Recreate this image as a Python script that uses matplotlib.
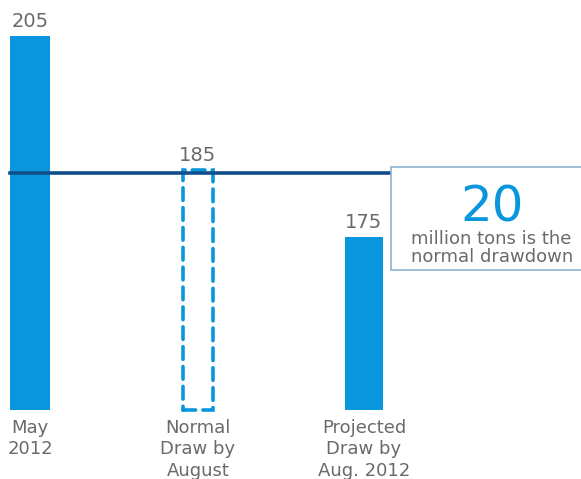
import matplotlib.pyplot as plt
from matplotlib.patches import Rectangle

# Données (millions de tonnes)
categories = ['May\n2012', 'Normal\nDraw by\nAugust', 'Projected\nDraw by\nAug. 2012']
valeurs = [205, 185, 175]
niveau_normal = 185
drawdown = 20

bleu = '#0a96dc'
bleu_fonce = '#0f4e8a'
gris = '#6a6a6a'
base = 149.2

fig = plt.figure(figsize=(5.81, 4.79), dpi=100)
ax = fig.add_axes([0, 0, 1, 1])
ax.set_xlim(-0.18, 3.30)
ax.set_ylim(138.9, 210.4)
ax.axis('off')

pos = [0, 1.005, 2.0]
larg = [0.24, 0.18, 0.23]

# Barres pleines
for i in [0, 2]:
    ax.bar(pos[i], valeurs[i] - base, bottom=base, width=larg[i], color=bleu, zorder=2)

# Barre en pointillés (tirage normal)
rect = Rectangle((pos[1] - larg[1] / 2, base), larg[1], valeurs[1] - base,
                 fill=False, edgecolor=bleu, linewidth=2.6,
                 linestyle=(0, (3.5, 2)), capstyle='round', zorder=2)
ax.add_patch(rect)

# Ligne du niveau normal
ax.plot([pos[0] - larg[0] / 2, 2.16], [niveau_normal - 0.45, niveau_normal - 0.45],
        color=bleu_fonce, linewidth=2.6, zorder=3)

# Etiquettes de valeurs
for i in range(3):
    ax.text(pos[i], valeurs[i] + 0.7, str(valeurs[i]), ha='center', va='bottom',
            fontsize=14, color=gris)

# Etiquettes de catégories
for i in range(3):
    ax.text(pos[i], base - 1.4, categories[i], ha='center', va='top',
            fontsize=13, color=gris, linespacing=1.22)

# Encadré
boite = Rectangle((2.16, 170.1), 1.3, 15.4, fill=True, facecolor='white',
                  edgecolor='#8fb3cf', linewidth=1.2, zorder=4)
ax.add_patch(boite)
ax.text(2.765, 179.5, str(drawdown), ha='center', va='center', fontsize=36,
        color=bleu, zorder=5)
ax.text(2.765, 173.4, 'million tons is the\nnormal drawdown', ha='center', va='center',
        fontsize=13, color=gris, linespacing=1.0, zorder=5)

fig.savefig('out.png', dpi=100)
